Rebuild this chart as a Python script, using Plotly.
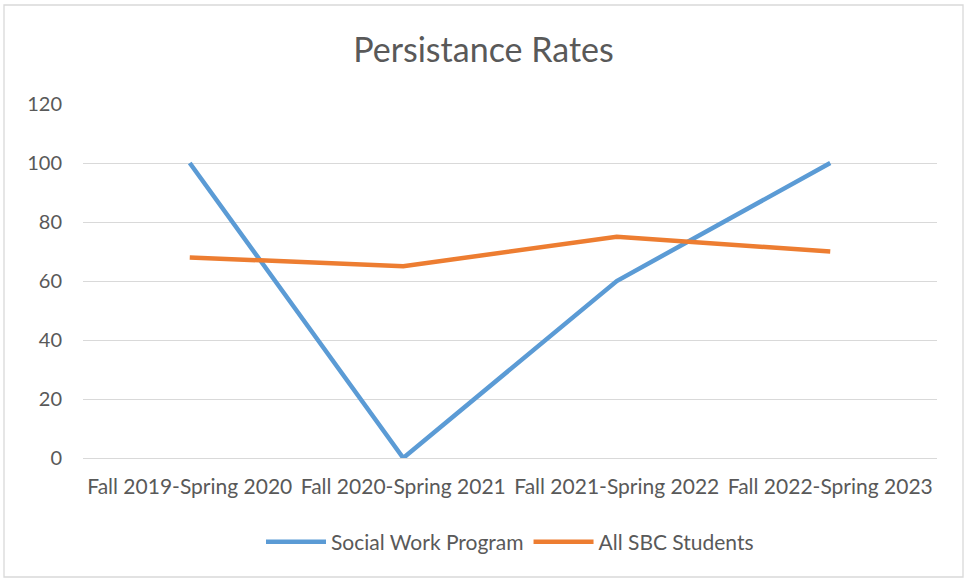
import plotly.graph_objects as go

categories = ["Fall 2019-Spring 2020", "Fall 2020-Spring 2021", "Fall 2021-Spring 2022", "Fall 2022-Spring 2023"]
social_work = [100, 0, 60, 100]
all_sbc = [68, 65, 75, 70]
y_ticks = [0, 20, 40, 60, 80, 100, 120]

W, H = 967, 580
L, R, T, B = 83, 30, 104, 122
pw, ph = W - L - R, H - T - B

fig = go.Figure()
fig.add_trace(go.Scatter(x=categories, y=social_work, mode="lines", name="Social Work Program",
                         line=dict(color="#5B9BD5", width=4.5)))
fig.add_trace(go.Scatter(x=categories, y=all_sbc, mode="lines", name="All SBC Students",
                         line=dict(color="#ED7D31", width=4.5)))

font = "Lato, Open Sans, sans-serif"
fig.update_layout(
    width=W, height=H,
    margin=dict(l=L, r=R, t=T, b=B),
    paper_bgcolor="white", plot_bgcolor="white",
    font=dict(family=font, color="#595959", size=21),
    title=dict(text="Persistance Rates", x=0.5, xanchor="center", y=1 - 50 / H, yanchor="middle",
               font=dict(size=34, color="#595959", family=font)),
    showlegend=True,
    legend=dict(orientation="h", x=0.5, xanchor="center", y=(458 - 542) / ph, yanchor="middle",
                font=dict(size=21, color="#595959"), itemwidth=60),
    xaxis=dict(type="category", range=[-0.5, 3.5], showgrid=False, showline=False, ticks="",
               ticklabelstandoff=14,
               tickfont=dict(size=21, color="#595959"), zeroline=False, fixedrange=True),
    yaxis=dict(range=[0, 120], tickvals=y_ticks, showgrid=True, gridcolor="#D9D9D9", gridwidth=1.3,
               zeroline=True, zerolinecolor="#D9D9D9", zerolinewidth=1.3,
               showline=False, ticks="", ticklabelstandoff=20,
               tickfont=dict(size=20, color="#595959"), fixedrange=True),
    shapes=[dict(type="rect", xref="paper", yref="paper",
                 x0=(4 - L) / pw, x1=(963 - L) / pw, y0=(H - B - 577) / ph, y1=(H - B - 5) / ph,
                 line=dict(color="#D9D9D9", width=1.3), fillcolor="rgba(0,0,0,0)", layer="below")],
)
fig.write_html("out.html", config={"displayModeBar": False},
               post_script="document.body.style.margin='0';")
